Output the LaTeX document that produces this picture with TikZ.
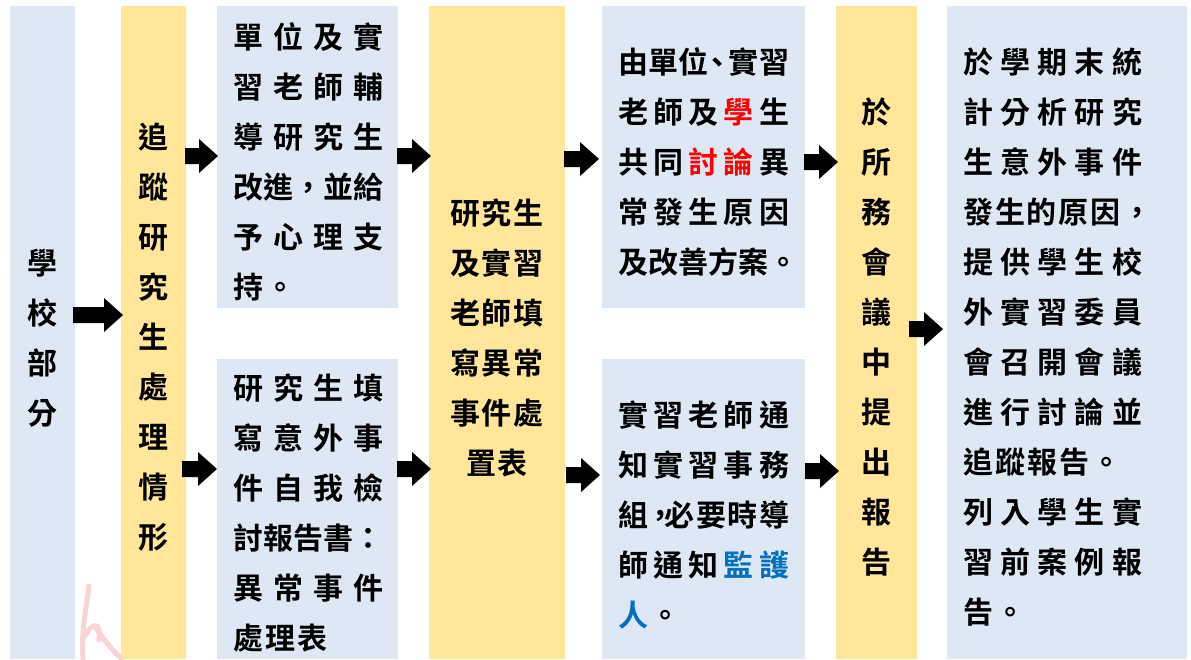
\documentclass[tikz,border=0pt]{standalone}
\usepackage{fontspec}
\newfontfamily\cjk{Noto Sans CJK TC Bold}
\definecolor{lb}{HTML}{DEE8F5}
\definecolor{yl}{HTML}{FFE699}
\definecolor{rd}{HTML}{FF0000}
\definecolor{bl}{HTML}{0070C0}
\definecolor{wm}{HTML}{FAD3D7}
\newcommand\hf{\hfill}
\newcommand\Ln[2]{\makebox[#1pt][s]{#2}}
\newcommand\barrow[4]{%
  \fill[arrowfill] (#2,#4-8) -- (#3-19,#4-8) -- (#3-19,#4-17) -- (#3,#4)
    -- (#3-19,#4+17) -- (#3-19,#4+8) -- (#2,#4+8) -- cycle;
  \coordinate (#1) at (#3,#4);}
\tikzset{
  box/.style={draw=none, inner sep=0pt, outer sep=0pt, anchor=north west},
  bluebox/.style={box, fill=lb},
  yelbox/.style={box, fill=yl},
  txt/.style={anchor=base west, inner sep=0pt},
  ctxt/.style={anchor=base, inner sep=0pt},
  arrowfill/.style={fill=black},
  wmark/.style={draw=wm, line width=5pt, line cap=round}
}
\begin{document}
\begin{tikzpicture}[x=1pt,y=-1pt,font=\cjk\fontsize{30pt}{30pt}\selectfont]
\useasboundingbox[fill=white] (0,0) rectangle (1191,659);
% faint watermark
\draw[wmark] (89,586) .. controls (86,610) and (81,632) .. (83,659);
\draw[wmark] (85,636) .. controls (92,622) and (101,621) .. (99,640);
\draw[wmark] (96,628) .. controls (104,640) and (112,650) .. (122,659);
% boxes
\node[bluebox, minimum width=65, minimum height=653] (b1) at (10,6) {};
\node[yelbox, minimum width=65, minimum height=653] (b2) at (121,6) {};
\node[bluebox, minimum width=181, minimum height=302] (b3a) at (217,6) {};
\node[bluebox, minimum width=181, minimum height=300] (b3b) at (217,359) {};
\node[yelbox, minimum width=136, minimum height=653] (b4) at (429,6) {};
\node[bluebox, minimum width=203, minimum height=302] (b5a) at (602,6) {};
\node[bluebox, minimum width=203, minimum height=300] (b5b) at (602,359) {};
\node[yelbox, minimum width=81, minimum height=653] (b6) at (836,6) {};
\node[bluebox, minimum width=240, minimum height=653] (b7) at (947,6) {};
% texts
\foreach \t [count=\i from 0] in {學,校,部,分}
  \node[ctxt] (t1\i) at (42.5,274+50*\i) {\t};
\foreach \t [count=\i from 0] in {追,蹤,研,究,生,處,理,情,形}
  \node[ctxt] (t2\i) at (153.5,148+50*\i) {\t};
\foreach \t [count=\i from 0] in {
  {\Ln{150}{單\hf 位\hf 及\hf 實}},
  {\Ln{150}{習\hf 老\hf 師\hf 輔}},
  {\Ln{150}{導\hf 研\hf 究\hf 生}},
  {\Ln{150}{改\hf 進\hf ，\hf 並\hf 給}},
  {\Ln{150}{予\hf 心\hf 理\hf 支}},
  {\Ln{62}{持\hf 。}}}
  \node[txt] (t3a\i) at (233,48+50*\i) {\t};
\foreach \t [count=\i from 0] in {
  {\Ln{150}{研\hf 究\hf 生\hf 填}},
  {\Ln{150}{寫\hf 意\hf 外\hf 事}},
  {\Ln{150}{件\hf 自\hf 我\hf 檢}},
  {\Ln{150}{討\hf 報\hf 告\hf 書\hf ：}},
  {\Ln{150}{異\hf 常\hf 事\hf 件}},
  {\Ln{94}{處\hf 理\hf 表}}}
  \node[txt] (t3b\i) at (233,399+50*\i) {\t};
\foreach \t [count=\i from 0] in {
  {\Ln{94}{研\hf 究\hf 生}},
  {\Ln{94}{及\hf 實\hf 習}},
  {\Ln{94}{老\hf 師\hf 填}},
  {\Ln{94}{寫\hf 異\hf 常}},
  {\Ln{94}{事\hf 件\hf 處}},
  {\Ln{62}{置\hf 表}}}
  \node[ctxt] (t4\i) at (497,224+50*\i) {\t};
\foreach \t [count=\i from 0] in {
  {\Ln{171}{由\hf 單\hf 位\kern-6pt 、\kern-4pt 實\hf 習}},
  {\Ln{171}{老\hf 師\hf 及\hf {\color{rd}學}\hf 生}},
  {\Ln{171}{共\hf 同\hf {\color{rd}討}\hf {\color{rd}論}\hf 異}},
  {\Ln{171}{常\hf 發\hf 生\hf 原\hf 因}},
  {\Ln{171}{及\hf 改\hf 善\hf 方\hf 案\hf 。\kern-8pt}}}
  \node[txt] (t5a\i) at (618,73+50*\i) {\t};
\foreach \t [count=\i from 0] in {
  {\Ln{171}{實\hf 習\hf 老\hf 師\hf 通}},
  {\Ln{171}{知\hf 實\hf 習\hf 事\hf 務}},
  {\Ln{171}{組\kern-3pt ，\kern-12pt\hf 必\hf 要\hf 時\hf 導}},
  {\Ln{171}{師\hf 通\hf 知\hf {\color{bl}監}\hf {\color{bl}護}}},
  {\Ln{62}{{\color{bl}人}\hf 。}}}
  \node[txt] (t5b\i) at (618,426+50*\i) {\t};
\foreach \t [count=\i from 0] in {於,所,務,會,議,中,提,出,報,告}
  \node[ctxt] (t6\i) at (876.5,123+50*\i) {\t};
\foreach \t [count=\i from 0] in {
  {\Ln{179}{於\hf 學\hf 期\hf 末\hf 統}},
  {\Ln{179}{計\hf 分\hf 析\hf 研\hf 究}},
  {\Ln{179}{生\hf 意\hf 外\hf 事\hf 件}},
  {\Ln{179}{發\hf 生\hf 的\hf 原\hf 因\hf ，\kern-10pt}},
  {\Ln{179}{提\hf 供\hf 學\hf 生\hf 校}},
  {\Ln{179}{外\hf 實\hf 習\hf 委\hf 員}},
  {\Ln{179}{會\hf 召\hf 開\hf 會\hf 議}},
  {\Ln{179}{進\hf 行\hf 討\hf 論\hf 並}},
  {\Ln{158}{追\hf 蹤\hf 報\hf 告\hf 。}},
  {\Ln{179}{列\hf 入\hf 學\hf 生\hf 實}},
  {\Ln{179}{習\hf 前\hf 案\hf 例\hf 報}},
  {\Ln{62}{告\hf 。}}}
  \node[txt] (t7\i) at (963,73+50*\i) {\t};
% block arrows
\barrow{a1}{73}{123}{315}
\barrow{a2}{185}{218}{156}
\barrow{a3}{182}{217}{469}
\barrow{a4}{397}{431}{156}
\barrow{a5}{397}{431}{469}
\barrow{a6}{564}{599}{159}
\barrow{a7}{566}{600}{475}
\barrow{a8}{804}{838}{162}
\barrow{a9}{805}{839}{471}
\barrow{a10}{909}{943}{329}
\end{tikzpicture}
\end{document}
